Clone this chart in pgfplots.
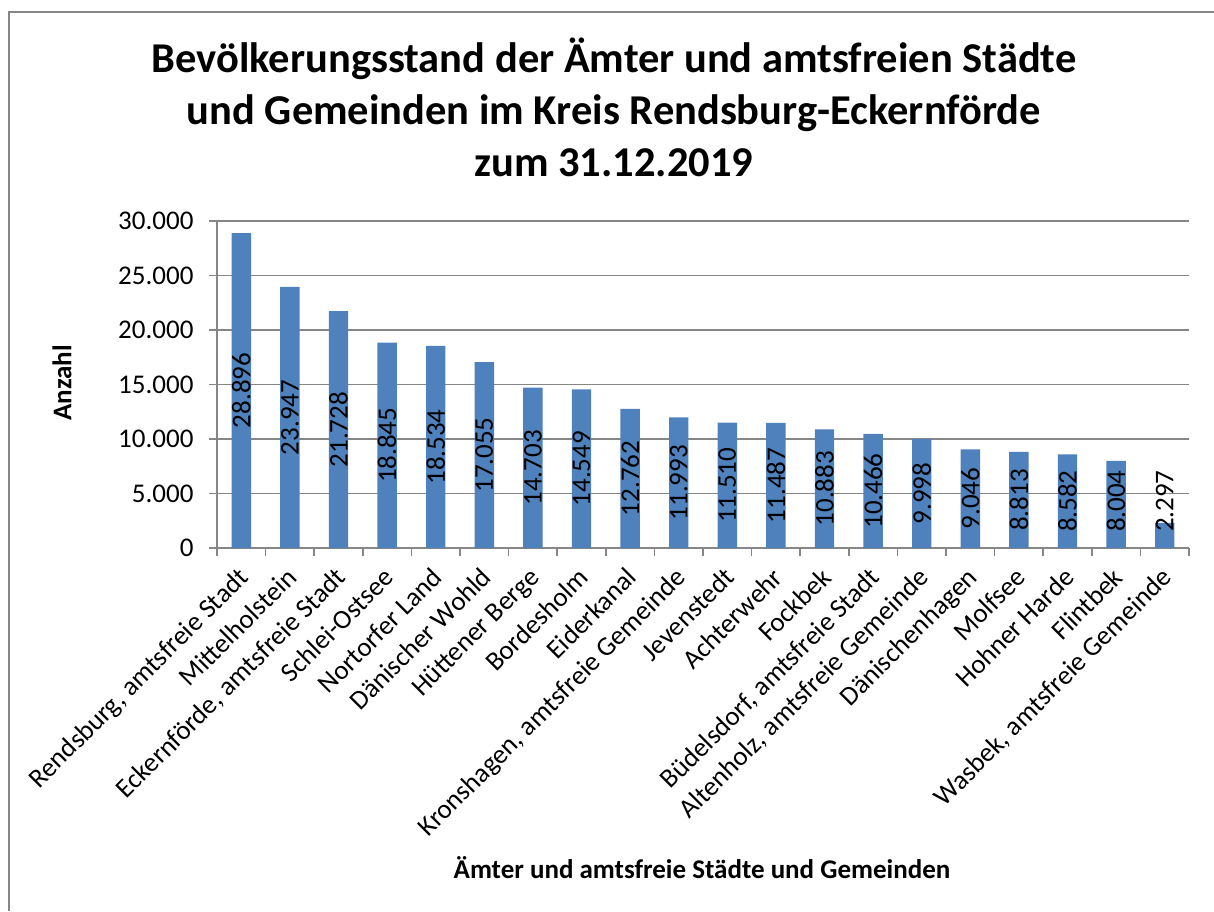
\documentclass[border=0pt]{standalone}
\usepackage{pgfplots}
\pgfplotsset{compat=1.18}
\usepackage{pgfplotstable}
\usepackage{fontspec}
\setmainfont{Carlito}
\definecolor{barblue}{HTML}{4F81BD}
\definecolor{axgray}{HTML}{868686}
\pgfplotstableread{
x v
0 28896
1 23947
2 21728
3 18845
4 18534
5 17055
6 14703
7 14549
8 12762
9 11993
10 11510
11 11487
12 10883
13 10466
14 9998
15 9046
16 8813
17 8582
18 8004
19 2297
}\datatable
\begin{document}
\begin{tikzpicture}[x=1pt,y=1pt]
\useasboundingbox (0,0) rectangle (1214,911);
\draw[axgray, line width=2pt] (8.5,0) -- (8.5,899) -- (1214,899);
\node[anchor=base, font=\fontsize{42.5}{50}\selectfont\bfseries] at (614,838.5) {Bevölkerungsstand der Ämter und amtsfreien Städte};
\node[anchor=base, font=\fontsize{42.5}{50}\selectfont\bfseries] at (614,786) {und Gemeinden im Kreis Rendsburg-Eckernförde};
\node[anchor=base, font=\fontsize{42.5}{50}\selectfont\bfseries] at (614,734) {zum 31.12.2019};
\node[rotate=90, font=\fontsize{27}{32}\selectfont\bfseries] at (62,528) {Anzahl};
\node[anchor=base, font=\fontsize{27}{32}\selectfont\bfseries] at (702,33) {Ämter und amtsfreie Städte und Gemeinden};
\begin{axis}[
  at={(217pt,363pt)}, anchor=south west,
  scale only axis, width=972pt, height=327pt,
  xmin=-0.5, xmax=19.5, ymin=0, ymax=30000,
  axis lines*=left,
  axis line style={axgray, line width=1.5pt},
  tick align=outside,
  ytick={0,5000,...,30000},
  ymajorgrids, grid style={axgray, line width=1.5pt},
  major tick length=8pt, minor tick length=8pt,
  tick style={axgray, line width=1.5pt},
  every major x tick/.style={draw=none},
  xtick={0,...,19},
  minor xtick={-0.5,0.5,...,19.5},
  xticklabels={{Rendsburg, amtsfreie Stadt},{Mittelholstein},{Eckernförde, amtsfreie Stadt},{Schlei-Ostsee},{Nortorfer Land},{Dänischer Wohld},{Hüttener Berge},{Bordesholm},{Eiderkanal},{Kronshagen, amtsfreie Gemeinde},{Jevenstedt},{Achterwehr},{Fockbek},{Büdelsdorf, amtsfreie Stadt},{Altenholz, amtsfreie Gemeinde},{Dänischenhagen},{Molfsee},{Hohner Harde},{Flintbek},{Wasbek, amtsfreie Gemeinde}},
  xticklabel style={xshift=-5pt, yshift=-7pt, rotate=45, anchor=north east, font=\fontsize{27}{32}\selectfont, inner sep=2pt},
  yticklabel style={xshift=-12pt, font=\fontsize{27}{32}\selectfont},
  scaled y ticks=false,
  /pgf/number format/.cd, assume math mode=true, fixed, precision=0, 1000 sep={.},
]
\addplot[ybar, bar width=19.4pt, fill=barblue, draw=none] table[x=x, y=v] {\datatable};
\addplot[draw=none, mark=none, nodes near coords, point meta=explicit,
  nodes near coords align={center},
  every node near coord/.append style={rotate=90, anchor=center, font=\fontsize{27}{32}\selectfont, text=black,
    /pgf/number format/.cd, assume math mode=true, fixed, precision=0, 1000 sep={.}}]
  table[x=x, y expr={max(\thisrow{v}/2,4300)}, meta=v] {\datatable};
\end{axis}
\end{tikzpicture}
\end{document}
